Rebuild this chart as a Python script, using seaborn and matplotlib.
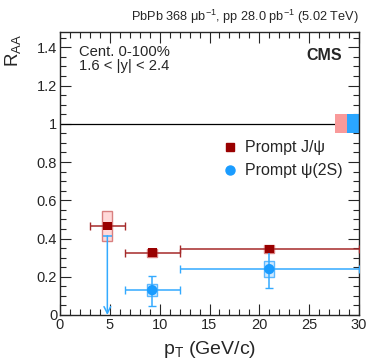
import numpy as np
import pandas as pd
import matplotlib
matplotlib.use("Agg")
import matplotlib.pyplot as plt
import seaborn as sns
from matplotlib.patches import Rectangle
from matplotlib.lines import Line2D

# データ
jpsi_pt = [4.75, 9.25, 21.0]
jpsi_raa = [0.465, 0.325, 0.345]
jpsi_pt_lo = [3.0, 6.5, 12.0]
jpsi_pt_hi = [6.5, 12.0, 30.0]
jpsi_syst = [0.08, 0.022, 0.023]

psi_pt = [9.25, 21.0]
psi_raa = [0.13, 0.24]
psi_pt_lo = [6.5, 12.0]
psi_pt_hi = [12.0, 30.0]
psi_stat_dn = [0.083, 0.10]
psi_stat_up = [0.075, 0.10]
psi_syst = [0.03, 0.04]

psi_limit_pt = 4.75
psi_limit = 0.414

glob_jpsi = 0.05
glob_psi = 0.05

c_jpsi = "#990000"
c_psi = "#1A9CFF"

sns.set_style("ticks")
plt.rcParams["font.family"] = ["Liberation Sans", "DejaVu Sans"]
plt.rcParams["mathtext.fontset"] = "custom"
plt.rcParams["mathtext.rm"] = "Liberation Sans"
plt.rcParams["mathtext.it"] = "Liberation Sans:italic"

fig = plt.figure(figsize=(3.74, 3.59), dpi=100)
ax = fig.add_axes([60 / 374, 1 - 315 / 359, 299 / 374, 283 / 359])

ax.axhline(1.0, color="black", lw=0.9, zorder=1)

# global uncertainty boxes
ax.add_patch(Rectangle((27.6, 1 - glob_jpsi), 1.2, 2 * glob_jpsi, facecolor="#F99A9A", edgecolor="none", zorder=2))
ax.add_patch(Rectangle((28.8, 1 - glob_psi), 1.2, 2 * glob_psi, facecolor="#2AA6FF", edgecolor="none", zorder=2))

# syst boxes
hw = 0.5
for x, y, s in zip(jpsi_pt, jpsi_raa, jpsi_syst):
    ax.add_patch(Rectangle((x - hw, y - s), 2 * hw, 2 * s, facecolor="#FFD9D9",
                           edgecolor="#D98080", lw=1.0, zorder=3))
for x, y, s in zip(psi_pt, psi_raa, psi_syst):
    ax.add_patch(Rectangle((x - hw, y - s), 2 * hw, 2 * s, facecolor="#CFE9FF",
                           edgecolor="#5CB8FF", lw=1.0, zorder=3))

# x errors
jx = np.array(jpsi_pt)
ax.errorbar(jx, jpsi_raa,
            xerr=[jx - np.array(jpsi_pt_lo), np.array(jpsi_pt_hi) - jx],
            fmt="none", ecolor="#A52A2A", elinewidth=1.1, capsize=3, zorder=4)
px = np.array(psi_pt)
ax.errorbar(px, psi_raa,
            xerr=[px - np.array(psi_pt_lo), np.array(psi_pt_hi) - px],
            yerr=[psi_stat_dn, psi_stat_up],
            fmt="none", ecolor="#33AAFF", elinewidth=1.1, capsize=3, zorder=4)

# upper limit psi(2S)
ax.hlines(psi_limit, psi_limit_pt - 0.45, psi_limit_pt + 0.45, color="#33AAFF", lw=1.1, zorder=4)
ax.annotate("", xy=(psi_limit_pt, 0.0), xytext=(psi_limit_pt, psi_limit),
            arrowprops=dict(arrowstyle="->", color="#33AAFF", lw=1.1,
                            mutation_scale=12, shrinkA=0, shrinkB=0), zorder=4)

df_j = pd.DataFrame({"pt": jpsi_pt, "raa": jpsi_raa})
df_p = pd.DataFrame({"pt": psi_pt, "raa": psi_raa})
sns.scatterplot(data=df_j, x="pt", y="raa", marker="s", s=40, color=c_jpsi,
                edgecolor="none", ax=ax, zorder=5)
sns.scatterplot(data=df_p, x="pt", y="raa", marker="o", s=55, color=c_psi,
                edgecolor="none", ax=ax, zorder=5)

ax.set_xlim(0, 30)
ax.set_ylim(0, 1.48)
ax.set_xticks(np.arange(0, 31, 5))
ax.set_xticks(np.arange(0, 31, 1), minor=True)
ax.set_yticks([0, 0.2, 0.4, 0.6, 0.8, 1.0, 1.2, 1.4])
ax.set_yticklabels(["0", "0.2", "0.4", "0.6", "0.8", "1", "1.2", "1.4"])
ax.set_yticks(np.arange(0, 1.48, 0.05), minor=True)
ax.tick_params(which="both", direction="in", top=True, right=True, labelsize=10.5, width=0.8)
ax.tick_params(which="major", length=8, pad=2)
ax.tick_params(which="minor", length=4)
for sp in ax.spines.values():
    sp.set_linewidth(1.0)

ax.set_xlabel(r"$\mathregular{p_T}$ (GeV/c)", fontsize=14, labelpad=1)
ax.set_ylabel(r"$\mathregular{R_{AA}}$", fontsize=13.5, labelpad=3)
ax.yaxis.set_label_coords(-0.125, 0.935)
ax.xaxis.set_label_coords(0.5, -0.085)

ax.text(0.064, 0.955, "Cent. 0-100%\n1.6 < |y| < 2.4", transform=ax.transAxes,
        ha="left", va="top", fontsize=10.6, linespacing=1.05)
ax.text(0.943, 0.945, "CMS", transform=ax.transAxes, ha="right", va="top",
        fontsize=11.5, fontweight="bold")
fig.text(359 / 374, 1 - 21 / 359,
         r"PbPb 368 $\mathregular{\mu b^{-1}}$, pp 28.0 $\mathregular{pb^{-1}}$ (5.02 TeV)",
         ha="right", va="baseline", fontsize=9.2)

handles = [Line2D([], [], marker="s", ls="none", color=c_jpsi, markersize=6),
           Line2D([], [], marker="o", ls="none", color=c_psi, markersize=6.5)]
ax.legend(handles, ["Prompt J/\u03c8", "Prompt \u03c8(2S)"], loc="upper left",
          bbox_to_anchor=(0.521, 0.645), frameon=False, fontsize=11.5,
          handlelength=0.8, handletextpad=0.5, labelspacing=0.5, borderpad=0)

fig.savefig("out.png", dpi=100)
